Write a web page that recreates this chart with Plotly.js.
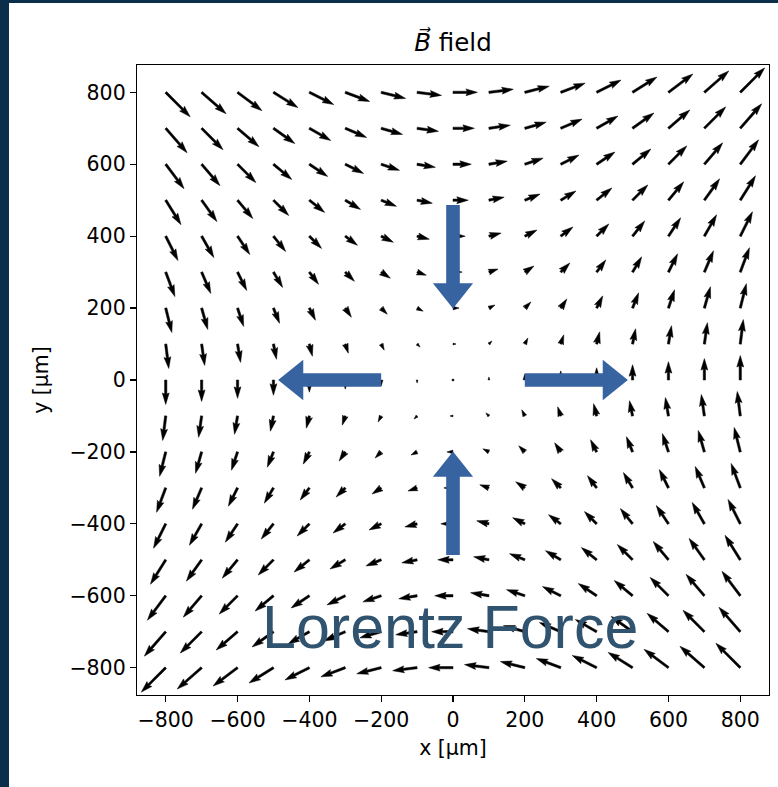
<!DOCTYPE html>
<html><head><meta charset="utf-8">
<script src="https://cdn.plot.ly/plotly-3.0.1.min.js"></script>
<style>
html,body{margin:0;padding:0;background:#0b2e4b;width:778px;height:787px;overflow:hidden;}
#chart{position:absolute;left:9px;top:3px;width:769px;height:784px;background:#fff;}
</style></head><body><div id="chart"></div>
<script>
// Grid positions of the quiver arrows (µm)
const gridX = [-800,-700,-600,-500,-400,-300,-200,-100,0,100,200,300,400,500,600,700,800];
const gridY = [-800,-700,-600,-500,-400,-300,-200,-100,0,100,200,300,400,500,600,700,800];
// Field components read from the arrows (arbitrary units), rows follow gridY, columns follow gridX
const fieldBx = [
[-8,-8,-8,-8,-8,-8,-8,-8,-8,-8,-8,-8,-8,-8,-8,-8,-8],
[-7,-7,-7,-7,-7,-7,-7,-7,-7,-7,-7,-7,-7,-7,-7,-7,-7],
[-6,-6,-6,-6,-6,-6,-6,-6,-6,-6,-6,-6,-6,-6,-6,-6,-6],
[-5,-5,-5,-5,-5,-5,-5,-5,-5,-5,-5,-5,-5,-5,-5,-5,-5],
[-4,-4,-4,-4,-4,-4,-4,-4,-4,-4,-4,-4,-4,-4,-4,-4,-4],
[-3,-3,-3,-3,-3,-3,-3,-3,-3,-3,-3,-3,-3,-3,-3,-3,-3],
[-2,-2,-2,-2,-2,-2,-2,-2,-2,-2,-2,-2,-2,-2,-2,-2,-2],
[-1,-1,-1,-1,-1,-1,-1,-1,-1,-1,-1,-1,-1,-1,-1,-1,-1],
[0,0,0,0,0,0,0,0,0,0,0,0,0,0,0,0,0],
[1,1,1,1,1,1,1,1,1,1,1,1,1,1,1,1,1],
[2,2,2,2,2,2,2,2,2,2,2,2,2,2,2,2,2],
[3,3,3,3,3,3,3,3,3,3,3,3,3,3,3,3,3],
[4,4,4,4,4,4,4,4,4,4,4,4,4,4,4,4,4],
[5,5,5,5,5,5,5,5,5,5,5,5,5,5,5,5,5],
[6,6,6,6,6,6,6,6,6,6,6,6,6,6,6,6,6],
[7,7,7,7,7,7,7,7,7,7,7,7,7,7,7,7,7],
[8,8,8,8,8,8,8,8,8,8,8,8,8,8,8,8,8]
];
const fieldBy = [
[-8,-7,-6,-5,-4,-3,-2,-1,0,1,2,3,4,5,6,7,8],
[-8,-7,-6,-5,-4,-3,-2,-1,0,1,2,3,4,5,6,7,8],
[-8,-7,-6,-5,-4,-3,-2,-1,0,1,2,3,4,5,6,7,8],
[-8,-7,-6,-5,-4,-3,-2,-1,0,1,2,3,4,5,6,7,8],
[-8,-7,-6,-5,-4,-3,-2,-1,0,1,2,3,4,5,6,7,8],
[-8,-7,-6,-5,-4,-3,-2,-1,0,1,2,3,4,5,6,7,8],
[-8,-7,-6,-5,-4,-3,-2,-1,0,1,2,3,4,5,6,7,8],
[-8,-7,-6,-5,-4,-3,-2,-1,0,1,2,3,4,5,6,7,8],
[-8,-7,-6,-5,-4,-3,-2,-1,0,1,2,3,4,5,6,7,8],
[-8,-7,-6,-5,-4,-3,-2,-1,0,1,2,3,4,5,6,7,8],
[-8,-7,-6,-5,-4,-3,-2,-1,0,1,2,3,4,5,6,7,8],
[-8,-7,-6,-5,-4,-3,-2,-1,0,1,2,3,4,5,6,7,8],
[-8,-7,-6,-5,-4,-3,-2,-1,0,1,2,3,4,5,6,7,8],
[-8,-7,-6,-5,-4,-3,-2,-1,0,1,2,3,4,5,6,7,8],
[-8,-7,-6,-5,-4,-3,-2,-1,0,1,2,3,4,5,6,7,8],
[-8,-7,-6,-5,-4,-3,-2,-1,0,1,2,3,4,5,6,7,8],
[-8,-7,-6,-5,-4,-3,-2,-1,0,1,2,3,4,5,6,7,8]
];
// Lorentz force arrows: tail and tip points (µm)
const forceTails = [[0,487],[-200,0],[200,0],[0,-487]];
const forceTips  = [[0,199],[-487,0],[487,0],[0,-199]];
const xTickVals = [-800,-600,-400,-200,0,200,400,600,800];
const yTickVals = [-800,-600,-400,-200,0,200,400,600,800];
const titleText = "<i>B\u20D7</i> field";
const xLabel = "x [µm]";
const yLabel = "y [µm]";
const overlayLabel = "Lorentz Force";

// ---- drawing helpers ----
const shaftW = 6.4;        // shaft width in data units
const lenPerUnit = 8.5;    // arrow length per field unit
function quiverPoly(x0, y0, u, v, xs, ys) {
  const L = Math.hypot(u, v) * lenPerUnit;
  let pts = [];
  if (L < shaftW) {
    for (let k = 0; k <= 6; k++) {
      const th = k * Math.PI / 3;
      pts.push([Math.cos(th) * 0.5, Math.sin(th) * 0.5]);
    }
  } else {
    const Lw = L / shaftW;
    let ax, ay;
    if (Lw < 5) {
      const s = Lw / 5;
      ax = [0, 0.5 * s, 0, 5 * s]; ay = [0.5 * s, 0.5 * s, 1.5 * s, 0];
    } else {
      ax = [0, Lw - 4.5, Lw - 5, Lw]; ay = [0.5, 0.5, 1.5, 0];
    }
    const ii = [0, 1, 2, 3, 2, 1, 0, 0];
    ii.forEach((idx, k) => {
      pts.push([ax[idx], (k >= 4 && k <= 6) ? -ay[idx] : ay[idx]]);
    });
  }
  const ang = Math.atan2(v, u), c = Math.cos(ang), s = Math.sin(ang);
  pts.forEach(p => {
    const px = p[0] * shaftW, py = p[1] * shaftW;
    xs.push(x0 + px * c - py * s);
    ys.push(y0 + px * s + py * c);
  });
  xs.push(null); ys.push(null);
}
const qx = [], qy = [];
gridY.forEach((yv, i) => gridX.forEach((xv, j) => quiverPoly(xv, yv, fieldBx[i][j], fieldBy[i][j], qx, qy)));

function blockArrow(t, p, xs, ys) {
  const dx = p[0] - t[0], dy = p[1] - t[1];
  const L = Math.hypot(dx, dy), ux = dx / L, uy = dy / L, nx = -uy, ny = ux;
  const hw = 19, hh = 56, hl = 70;
  const local = [[0, hw], [L - hl, hw], [L - hl, hh], [L, 0], [L - hl, -hh], [L - hl, -hw], [0, -hw], [0, hw]];
  local.forEach(q => { xs.push(t[0] + q[0] * ux + q[1] * nx); ys.push(t[1] + q[0] * uy + q[1] * ny); });
  xs.push(null); ys.push(null);
}
const bx = [], by = [];
forceTails.forEach((t, k) => blockArrow(t, forceTips[k], bx, by));

const tickFont = {family: "DejaVu Sans", size: 20.5, color: "#000"};
const data = [
  {type: "scatter", mode: "lines", x: qx, y: qy, fill: "toself", fillcolor: "#000",
   line: {color: "#000", width: 0.5}, hoverinfo: "skip", showlegend: false},
  {type: "scatter", mode: "lines", x: bx, y: by, fill: "toself", fillcolor: "#3763a1",
   line: {color: "#3763a1", width: 0}, hoverinfo: "skip", showlegend: false}
];
const layout = {
  width: 769, height: 784,
  margin: {l: 128, r: 9, t: 62, b: 92},
  paper_bgcolor: "#fff", plot_bgcolor: "#fff",
  showlegend: false, hovermode: false,
  font: {family: "DejaVu Sans", color: "#000"},
  title: {text: titleText, font: {family: "DejaVu Sans", size: 24.5, color: "#000"},
          x: 0.5, xref: "paper", xanchor: "center", y: 0.950, yref: "container", yanchor: "middle"},
  xaxis: {range: [-880, 880], tickvals: xTickVals, ticks: "outside", ticklen: 6, tickwidth: 1.2,
          tickcolor: "#000", showline: true, linecolor: "#000", linewidth: 1.2, mirror: true,
          showgrid: false, zeroline: false, tickfont: tickFont,
          title: {text: xLabel, font: {family: "DejaVu Sans", size: 20.5, color: "#000"}, standoff: 9}},
  yaxis: {range: [-876, 876], tickvals: yTickVals, ticks: "outside", ticklen: 6, tickwidth: 1.2,
          tickcolor: "#000", showline: true, linecolor: "#000", linewidth: 1.2, mirror: true,
          showgrid: false, zeroline: false, tickfont: tickFont,
          title: {text: yLabel, font: {family: "DejaVu Sans", size: 20.5, color: "#000"}, standoff: 15}},
  annotations: [{text: overlayLabel, x: -9, y: -686, xref: "x", yref: "y", showarrow: false,
                 xanchor: "center", yanchor: "middle",
                 font: {family: "Liberation Sans", size: 61, color: "#30536f"}}]
};
Plotly.newPlot("chart", data, layout, {staticPlot: true, displayModeBar: false});
</script></body></html>
